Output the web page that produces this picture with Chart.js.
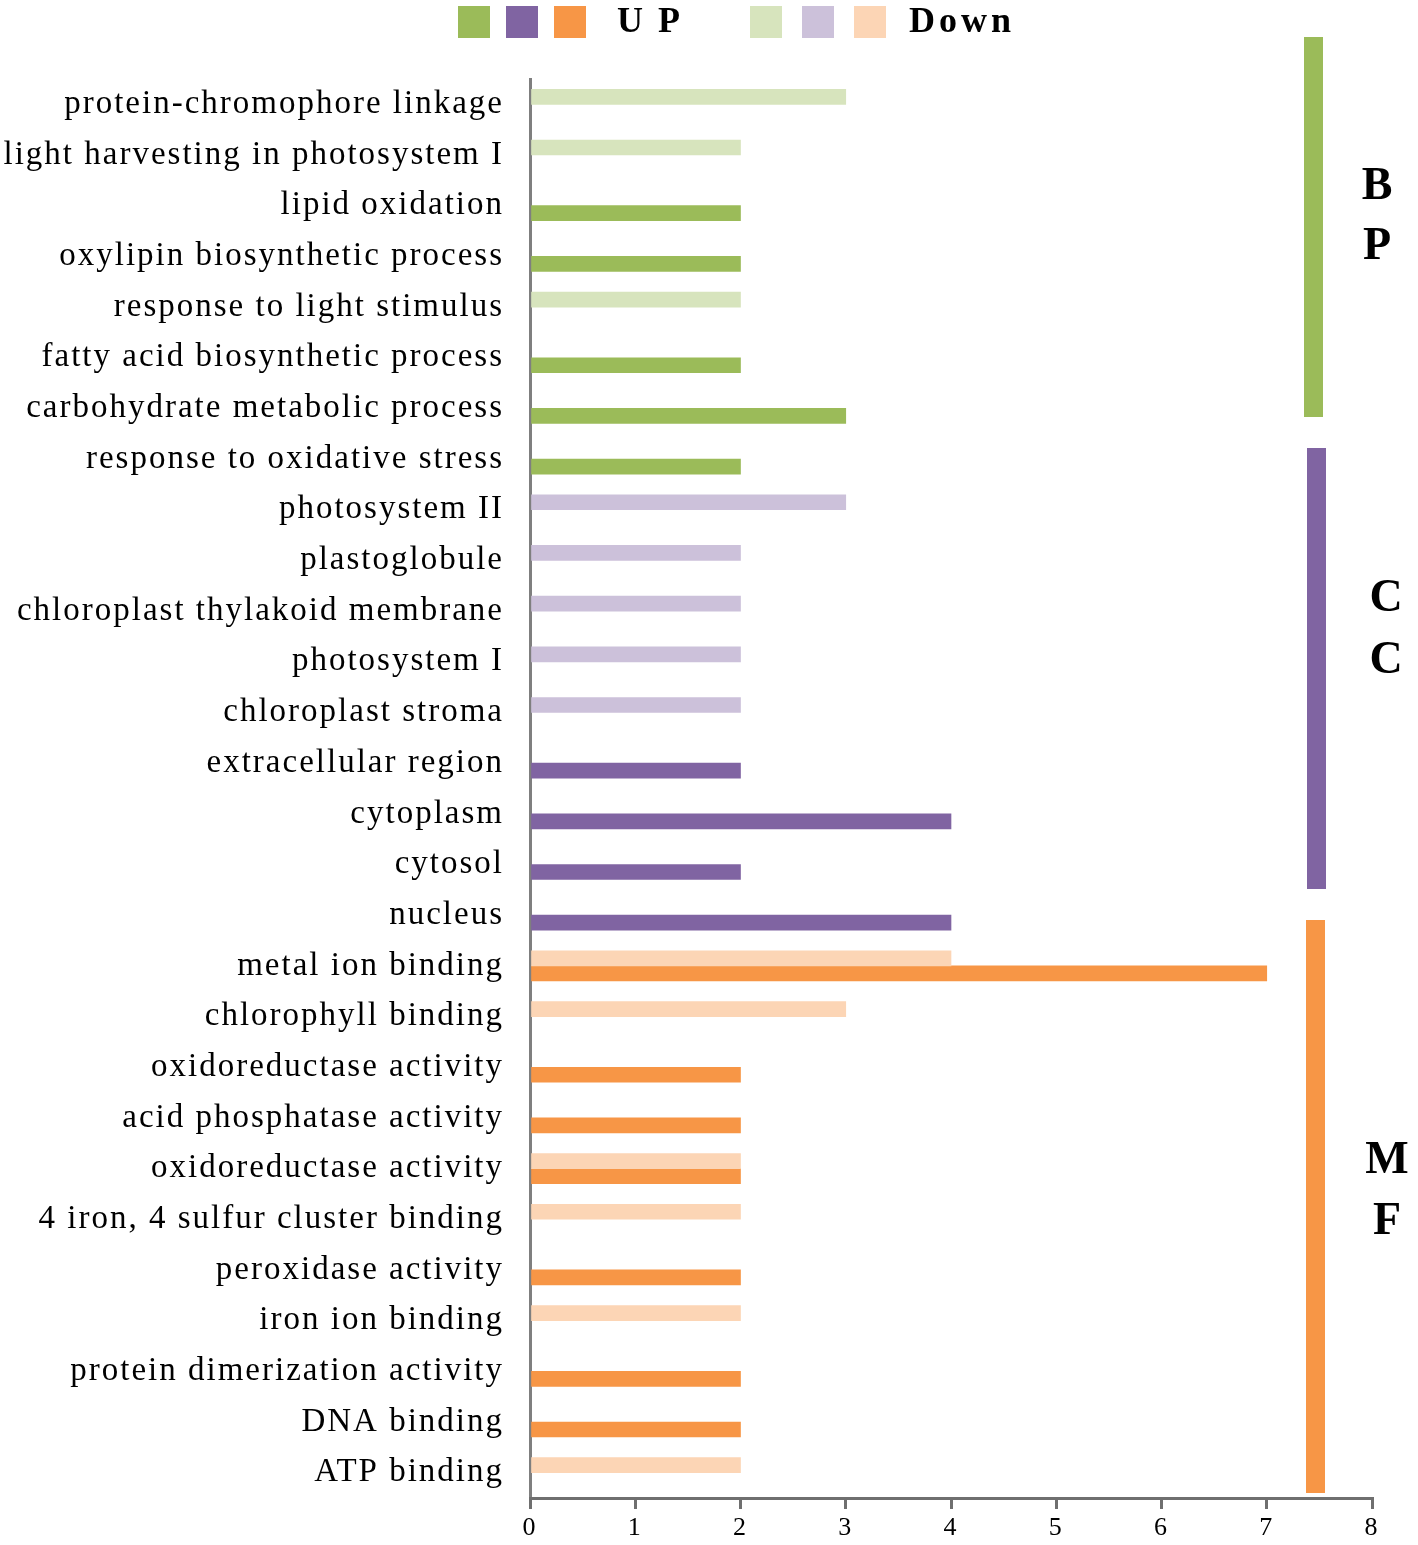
<!DOCTYPE html>
<html>
<head>
<meta charset="utf-8">
<script src="https://cdn.jsdelivr.net/npm/chart.js@4.4.1/dist/chart.umd.min.js"></script>
<style>
  body { margin: 0; background: #fff; }
  #wrap { width: 1418px; height: 1545px; position: relative; }
</style>
</head>
<body>
<div id="wrap"><canvas id="myChart"></canvas></div>
<script>
// categorias de arriba hacia abajo
const categorias = [
  'protein-chromophore linkage', 'light harvesting in photosystem I', 'lipid oxidation',
  'oxylipin biosynthetic process', 'response to light stimulus', 'fatty acid biosynthetic process',
  'carbohydrate metabolic process', 'response to oxidative stress',
  'photosystem II', 'plastoglobule', 'chloroplast thylakoid membrane', 'photosystem I',
  'chloroplast stroma', 'extracellular region', 'cytoplasm', 'cytosol', 'nucleus',
  'metal ion binding', 'chlorophyll binding', 'oxidoreductase activity', 'acid phosphatase activity',
  'oxidoreductase activity', '4 iron, 4 sulfur cluster binding', 'peroxidase activity',
  'iron ion binding', 'protein dimerization activity', 'DNA binding', 'ATP binding'
];
// grupo de cada categoria
const grupos = [
  'BP', 'BP', 'BP', 'BP', 'BP', 'BP', 'BP', 'BP',
  'CC', 'CC', 'CC', 'CC', 'CC', 'CC', 'CC', 'CC', 'CC',
  'MF', 'MF', 'MF', 'MF', 'MF', 'MF', 'MF', 'MF', 'MF', 'MF', 'MF'
];
const valoresUp = [
  null, null, 2, 2, null, 2, 3, 2,
  null, null, null, null, null, 2, 4, 2, 4,
  7, null, 2, 2, 2, null, 2, null, 2, 2, null
];
const valoresDown = [
  3, 2, null, null, 2, null, null, null,
  3, 2, 2, 2, 2, null, null, null, null,
  4, 3, null, null, 2, 2, null, 2, null, null, 2
];
const ticksX = [0, 1, 2, 3, 4, 5, 6, 7, 8];

const colorUp = { BP: '#9bbb59', CC: '#8064a2', MF: '#f79646' };
const colorDown = { BP: '#d7e4bd', CC: '#ccc1da', MF: '#fcd5b5' };
const fuente = '"Liberation Serif", "Times New Roman", serif';

// letras con espaciado como en la figura original
const espaciado = {
  id: 'espaciado',
  beforeDraw(chart) { chart.ctx.letterSpacing = '2px'; },
  beforeDatasetsDraw(chart) { chart.ctx.letterSpacing = '0px'; }
};

// leyenda arriba y barras de grupo a la derecha
const extras = {
  id: 'extras',
  afterDraw(chart) {
    const ctx = chart.ctx;
    ctx.save();
    const cuadros = [
      [458, colorUp.BP], [506, colorUp.CC], [554, colorUp.MF],
      [750, colorDown.BP], [802, colorDown.CC], [854, colorDown.MF]
    ];
    cuadros.forEach(([x, c]) => {
      ctx.fillStyle = c;
      ctx.fillRect(x, 6, 32, 32);
    });
    ctx.fillStyle = '#000';
    ctx.font = 'bold 36px ' + fuente;
    ctx.textBaseline = 'middle';
    ctx.textAlign = 'left';
    ctx.letterSpacing = '3px';
    ctx.fillText('U P', 617, 23);
    ctx.letterSpacing = '4px';
    ctx.fillText('Down', 909, 23);

    // bandas laterales
    const bandas = [
      { g: 'BP', x: 1304, top: 37, bottom: 417, lx: 1377, ly: [187, 247] },
      { g: 'CC', x: 1307, top: 448, bottom: 889, lx: 1386, ly: [599, 661] },
      { g: 'MF', x: 1306, top: 920, bottom: 1493, lx: 1387, ly: [1161, 1222] }
    ];
    ctx.letterSpacing = '0px';
    ctx.font = 'bold 46px ' + fuente;
    ctx.textAlign = 'center';
    bandas.forEach(b => {
      ctx.fillStyle = colorUp[b.g];
      ctx.fillRect(b.x, b.top, 19, b.bottom - b.top);
      ctx.fillStyle = '#000';
      ctx.fillText(b.g[0], b.lx, b.ly[0]);
      ctx.fillText(b.g[1], b.lx, b.ly[1]);
    });
    ctx.restore();
  }
};

const ctx = document.getElementById('myChart');
const grafico = new Chart(ctx, {
  type: 'bar',
  data: {
    labels: categorias,
    datasets: [{
      label: 'Down',
      data: valoresDown,
      backgroundColor: c => colorDown[grupos[c.dataIndex]],
      barThickness: 15
    }, {
      label: 'UP',
      data: valoresUp,
      backgroundColor: c => colorUp[grupos[c.dataIndex]],
      barThickness: 15
    }]
  },
  options: {
    indexAxis: 'y',
    responsive: true,
    maintainAspectRatio: false,
    animation: false,
    layout: { padding: { top: 79, right: 46, bottom: 0, left: 0 } },
    plugins: { legend: { display: false }, tooltip: { enabled: false } },
    scales: {
      y: {
        grid: { display: false, drawTicks: false },
        border: { display: true, color: '#7f7f7f', width: 3 },
        ticks: { color: '#000', padding: 26, font: { family: fuente, size: 33 } },
        afterFit: s => { s.width = 530; }
      },
      x: {
        min: 0,
        max: 8,
        afterBuildTicks: s => { s.ticks = ticksX.map(v => ({ value: v })); },
        grid: { display: true, drawOnChartArea: false, drawTicks: true, tickLength: 11, color: '#6f6f6f', lineWidth: 3 },
        border: { display: true, color: '#6f6f6f', width: 3 },
        ticks: { color: '#000', padding: 4, font: { family: fuente, size: 26 } },
        afterFit: s => { s.height = 47; }
      }
    }
  },
  plugins: [espaciado, extras]
});
</script>
</body>
</html>
